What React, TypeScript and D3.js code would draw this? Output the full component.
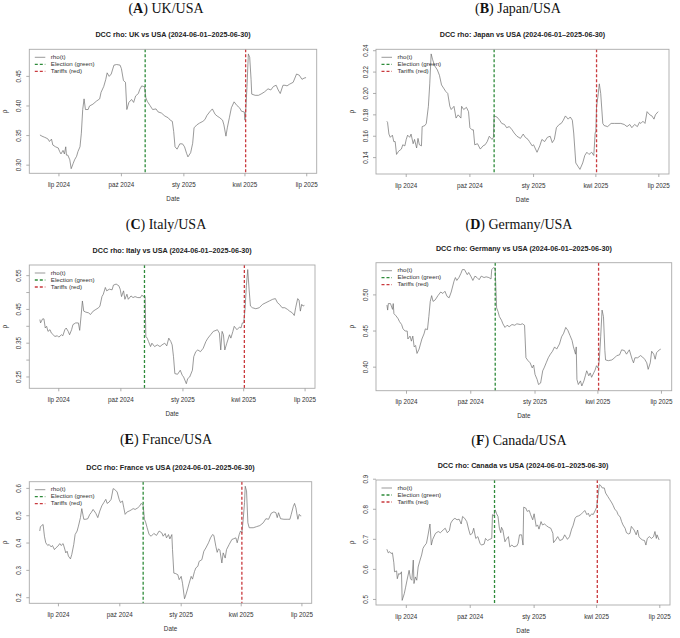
import React from 'react';
import * as d3 from 'd3';

// days counted from 2024-06-01
const START = Date.UTC(2024, 5, 1);
const toDate = (d: number) => new Date(START + d * 864e5);

const monthTicks = ['2024-07-01', '2024-10-01', '2025-01-01', '2025-04-01', '2025-07-01'];
const monthLabels = ['lip 2024', 'paź 2024', 'sty 2025', 'kwi 2025', 'lip 2025'];
const electionDate = '2024-11-05';
const tariffDate = '2025-04-02';
const legendLabels = ['rho(t)', 'Election (green)', 'Tariffs (red)'];

const letters = ['A', 'B', 'C', 'D', 'E', 'F'];
const countries = ['UK', 'Japan', 'Italy', 'Germany', 'France', 'Canada'];

const ukRho: [number, number][] = [
  [2, 0.351], [5, 0.349], [9, 0.347], [11, 0.346], [14, 0.344], [16, 0.34], [19, 0.344], [21, 0.334],
  [25, 0.331], [29, 0.329], [31, 0.323], [33, 0.319], [36, 0.325], [38, 0.319], [40, 0.331], [41, 0.317],
  [43, 0.317], [46, 0.309], [48, 0.294], [51, 0.303], [53, 0.309], [56, 0.315], [58, 0.323], [61, 0.331],
  [63, 0.354], [65, 0.394], [67, 0.412], [69, 0.394], [73, 0.394], [75, 0.4], [80, 0.403], [85, 0.408],
  [90, 0.412], [92, 0.423], [96, 0.433], [99, 0.445], [101, 0.456], [104, 0.45], [107, 0.454], [111, 0.469],
  [115, 0.47], [120, 0.469], [122, 0.463], [125, 0.443], [128, 0.44], [130, 0.394], [133, 0.406], [137, 0.411],
  [140, 0.406], [143, 0.417], [147, 0.421], [149, 0.428], [152, 0.434], [154, 0.433], [156, 0.433], [158, 0.414],
  [160, 0.408], [164, 0.401], [168, 0.394], [173, 0.395], [176, 0.39], [181, 0.388], [186, 0.383], [191, 0.38],
  [194, 0.376], [197, 0.374], [199, 0.357], [201, 0.331], [204, 0.327], [208, 0.336], [212, 0.336], [215, 0.331],
  [218, 0.32], [220, 0.314], [224, 0.321], [227, 0.337], [229, 0.363], [233, 0.368], [237, 0.371], [242, 0.374],
  [245, 0.377], [248, 0.384], [252, 0.39], [256, 0.395], [260, 0.386], [263, 0.383], [267, 0.38], [271, 0.376],
  [273, 0.368], [276, 0.349], [278, 0.363], [281, 0.38], [284, 0.397], [288, 0.407], [292, 0.401], [296, 0.397],
  [299, 0.391], [303, 0.39], [304, 0.376], [305, 0.388], [307, 0.433], [309, 0.488], [311, 0.482], [313, 0.445],
  [314, 0.42], [319, 0.418], [324, 0.418], [329, 0.421], [333, 0.424], [338, 0.429], [342, 0.427], [346, 0.433],
  [350, 0.435], [353, 0.427], [356, 0.421], [360, 0.435], [363, 0.435], [366, 0.434], [370, 0.437], [375, 0.44],
  [380, 0.454], [384, 0.452], [388, 0.445], [391, 0.447], [394, 0.448],
];

const japanRho: [number, number][] = [
  [2, 0.174], [3, 0.173], [5, 0.162], [7, 0.159], [10, 0.161], [12, 0.155], [14, 0.155], [16, 0.143],
  [19, 0.146], [23, 0.148], [25, 0.152], [28, 0.151], [30, 0.157], [32, 0.161], [35, 0.159], [37, 0.162],
  [40, 0.153], [42, 0.157], [45, 0.149], [47, 0.158], [49, 0.152], [52, 0.151], [53, 0.169], [57, 0.17],
  [59, 0.172], [62, 0.188], [64, 0.209], [66, 0.237], [68, 0.232], [71, 0.226], [75, 0.222], [78, 0.217],
  [81, 0.208], [84, 0.205], [87, 0.202], [90, 0.2], [93, 0.188], [95, 0.185], [99, 0.188], [102, 0.177],
  [105, 0.18], [109, 0.177], [110, 0.188], [113, 0.185], [117, 0.187], [120, 0.183], [122, 0.168], [125, 0.166],
  [127, 0.166], [129, 0.152], [133, 0.153], [137, 0.148], [141, 0.151], [144, 0.152], [147, 0.155], [150, 0.16],
  [154, 0.157], [156, 0.159], [157, 0.179], [161, 0.178], [165, 0.175], [168, 0.172], [172, 0.171], [175, 0.168],
  [179, 0.169], [183, 0.166], [186, 0.163], [190, 0.16], [195, 0.158], [199, 0.162], [202, 0.159], [206, 0.157],
  [208, 0.155], [212, 0.151], [214, 0.152], [219, 0.145], [223, 0.151], [226, 0.157], [230, 0.155], [234, 0.159],
  [238, 0.16], [241, 0.154], [244, 0.157], [247, 0.168], [251, 0.171], [254, 0.172], [257, 0.175], [260, 0.179],
  [264, 0.176], [267, 0.178], [270, 0.175], [272, 0.163], [275, 0.135], [278, 0.132], [281, 0.129], [285, 0.135],
  [288, 0.142], [291, 0.145], [294, 0.143], [298, 0.145], [301, 0.142], [303, 0.163], [304, 0.165], [305, 0.188],
  [307, 0.197], [309, 0.209], [311, 0.2], [314, 0.172], [316, 0.17], [321, 0.169], [326, 0.172], [331, 0.172],
  [336, 0.172], [340, 0.172], [345, 0.171], [349, 0.169], [353, 0.171], [356, 0.168], [360, 0.171], [364, 0.169],
  [367, 0.173], [369, 0.172], [372, 0.174], [375, 0.172], [378, 0.183], [382, 0.18], [385, 0.179], [388, 0.176],
  [390, 0.18], [394, 0.183],
];

const italyRho: [number, number][] = [
  [2, 0.42], [3, 0.41], [6, 0.422], [8, 0.422], [10, 0.395], [12, 0.4], [14, 0.385], [17, 0.39],
  [19, 0.38], [22, 0.375], [24, 0.37], [28, 0.372], [30, 0.368], [34, 0.375], [36, 0.372], [39, 0.39],
  [41, 0.395], [44, 0.385], [46, 0.375], [49, 0.39], [51, 0.405], [55, 0.41], [59, 0.41], [61, 0.388],
  [63, 0.43], [65, 0.475], [67, 0.445], [70, 0.442], [74, 0.44], [77, 0.435], [81, 0.445], [85, 0.45],
  [89, 0.455], [91, 0.46], [94, 0.488], [96, 0.495], [99, 0.515], [101, 0.505], [105, 0.51], [109, 0.508],
  [111, 0.522], [115, 0.525], [119, 0.52], [121, 0.51], [123, 0.488], [126, 0.505], [128, 0.48], [131, 0.495],
  [133, 0.48], [137, 0.49], [140, 0.485], [143, 0.488], [147, 0.485], [151, 0.485], [153, 0.492], [156, 0.488],
  [158, 0.488], [159, 0.37], [161, 0.365], [163, 0.355], [166, 0.34], [168, 0.35], [172, 0.34], [176, 0.345],
  [180, 0.34], [183, 0.345], [187, 0.35], [190, 0.342], [193, 0.365], [196, 0.355], [198, 0.345], [200, 0.31],
  [202, 0.26], [206, 0.258], [210, 0.27], [213, 0.255], [215, 0.25], [219, 0.23], [221, 0.245], [224, 0.25],
  [228, 0.27], [230, 0.31], [233, 0.325], [236, 0.33], [240, 0.325], [244, 0.335], [248, 0.355], [251, 0.365],
  [255, 0.375], [259, 0.385], [263, 0.388], [265, 0.39], [268, 0.38], [270, 0.33], [272, 0.385], [274, 0.375],
  [276, 0.33], [279, 0.35], [283, 0.375], [285, 0.365], [288, 0.385], [290, 0.4], [294, 0.39], [298, 0.398],
  [300, 0.395], [302, 0.41], [304, 0.41], [306, 0.45], [308, 0.52], [310, 0.568], [312, 0.51], [314, 0.46],
  [317, 0.455], [322, 0.452], [327, 0.455], [332, 0.465], [337, 0.47], [342, 0.475], [347, 0.48], [351, 0.482],
  [354, 0.47], [357, 0.465], [361, 0.455], [365, 0.455], [369, 0.45], [372, 0.445], [376, 0.44], [379, 0.432],
  [381, 0.455], [384, 0.482], [386, 0.478], [388, 0.445], [390, 0.465], [392, 0.46], [394, 0.462],
];

const germanyRho: [number, number][] = [
  [2, 0.486], [3, 0.479], [4, 0.488], [7, 0.488], [10, 0.48], [11, 0.488], [12, 0.474], [15, 0.471],
  [18, 0.467], [20, 0.463], [23, 0.459], [25, 0.453], [28, 0.45], [31, 0.45], [32, 0.439], [35, 0.443],
  [37, 0.436], [39, 0.443], [41, 0.428], [43, 0.43], [45, 0.419], [48, 0.425], [50, 0.432], [52, 0.439],
  [55, 0.446], [57, 0.453], [60, 0.452], [62, 0.47], [64, 0.491], [66, 0.499], [68, 0.491], [71, 0.493],
  [75, 0.499], [79, 0.504], [82, 0.502], [85, 0.505], [88, 0.498], [91, 0.496], [94, 0.504], [98, 0.519],
  [100, 0.524], [102, 0.52], [105, 0.524], [108, 0.53], [110, 0.535], [113, 0.535], [117, 0.528], [119, 0.531],
  [122, 0.526], [125, 0.52], [128, 0.526], [131, 0.524], [134, 0.521], [137, 0.526], [141, 0.524], [144, 0.525],
  [148, 0.524], [151, 0.522], [152, 0.535], [155, 0.538], [157, 0.535], [159, 0.482], [161, 0.477], [163, 0.47],
  [166, 0.465], [168, 0.46], [171, 0.455], [174, 0.458], [177, 0.456], [181, 0.459], [185, 0.458], [188, 0.46],
  [193, 0.459], [196, 0.46], [199, 0.458], [201, 0.413], [204, 0.409], [207, 0.406], [210, 0.399], [212, 0.403],
  [214, 0.39], [217, 0.383], [219, 0.376], [222, 0.378], [225, 0.395], [227, 0.399], [230, 0.406], [233, 0.413],
  [236, 0.418], [239, 0.422], [242, 0.428], [245, 0.425], [249, 0.432], [252, 0.442], [255, 0.447], [258, 0.455],
  [261, 0.451], [264, 0.444], [267, 0.437], [269, 0.428], [272, 0.418], [273, 0.428], [274, 0.383], [276, 0.376],
  [279, 0.381], [281, 0.374], [284, 0.381], [286, 0.388], [288, 0.395], [291, 0.388], [293, 0.392], [295, 0.386],
  [298, 0.392], [300, 0.396], [302, 0.402], [304, 0.399], [306, 0.409], [308, 0.442], [310, 0.479], [312, 0.47],
  [314, 0.423], [315, 0.41], [319, 0.409], [324, 0.41], [328, 0.413], [331, 0.416], [335, 0.417], [338, 0.424],
  [342, 0.423], [345, 0.418], [349, 0.424], [353, 0.411], [355, 0.406], [357, 0.413], [361, 0.413], [365, 0.416],
  [368, 0.414], [371, 0.411], [374, 0.406], [376, 0.397], [379, 0.406], [381, 0.422], [384, 0.418], [386, 0.411],
  [388, 0.42], [392, 0.424], [394, 0.425],
];

const franceRho: [number, number][] = [
  [2, 0.444], [3, 0.46], [5, 0.464], [7, 0.468], [9, 0.425], [11, 0.401], [14, 0.391], [16, 0.395],
  [19, 0.386], [21, 0.391], [24, 0.376], [26, 0.382], [29, 0.388], [32, 0.398], [34, 0.391], [37, 0.398],
  [39, 0.382], [41, 0.364], [43, 0.37], [45, 0.352], [48, 0.342], [50, 0.358], [53, 0.395], [55, 0.431],
  [58, 0.444], [60, 0.462], [63, 0.493], [65, 0.526], [68, 0.487], [71, 0.487], [74, 0.489], [77, 0.505],
  [79, 0.511], [82, 0.523], [86, 0.509], [89, 0.493], [92, 0.517], [95, 0.536], [98, 0.548], [101, 0.56],
  [103, 0.545], [106, 0.55], [109, 0.56], [112, 0.599], [114, 0.597], [118, 0.587], [121, 0.56], [123, 0.548],
  [126, 0.554], [128, 0.529], [130, 0.505], [133, 0.514], [136, 0.517], [139, 0.521], [142, 0.526], [145, 0.523],
  [149, 0.529], [152, 0.536], [154, 0.545], [157, 0.538], [159, 0.487], [161, 0.474], [163, 0.456], [166, 0.431],
  [169, 0.425], [173, 0.435], [177, 0.428], [181, 0.444], [185, 0.437], [187, 0.425], [190, 0.435], [192, 0.419],
  [195, 0.431], [197, 0.415], [200, 0.431], [201, 0.376], [203, 0.29], [206, 0.288], [209, 0.284], [211, 0.266],
  [214, 0.278], [216, 0.253], [219, 0.196], [221, 0.21], [224, 0.235], [226, 0.253], [229, 0.278], [231, 0.268],
  [234, 0.296], [236, 0.309], [239, 0.315], [241, 0.333], [245, 0.339], [248, 0.37], [251, 0.382], [255, 0.401],
  [258, 0.419], [261, 0.431], [263, 0.428], [266, 0.388], [268, 0.366], [270, 0.379], [272, 0.374], [275, 0.327],
  [277, 0.364], [280, 0.345], [282, 0.376], [286, 0.395], [290, 0.413], [292, 0.415], [296, 0.419], [298, 0.401],
  [301, 0.431], [303, 0.444], [305, 0.437], [307, 0.487], [309, 0.548], [310, 0.608], [312, 0.591], [314, 0.474],
  [316, 0.456], [322, 0.456], [327, 0.46], [332, 0.464], [337, 0.474], [341, 0.489], [345, 0.487], [349, 0.509],
  [353, 0.514], [356, 0.511], [358, 0.493], [360, 0.511], [363, 0.489], [368, 0.487], [373, 0.487], [377, 0.487],
  [379, 0.505], [382, 0.533], [384, 0.545], [386, 0.529], [388, 0.499], [389, 0.487], [391, 0.505], [393, 0.499],
  [394, 0.499],
];

const canadaRho: [number, number][] = [
  [2, 0.667], [4, 0.655], [6, 0.659], [8, 0.653], [10, 0.655], [12, 0.622], [13, 0.592], [16, 0.595],
  [17, 0.569], [19, 0.586], [21, 0.584], [23, 0.592], [24, 0.497], [27, 0.519], [29, 0.541], [31, 0.564],
  [34, 0.597], [36, 0.569], [38, 0.564], [40, 0.631], [41, 0.553], [43, 0.575], [45, 0.564], [47, 0.608],
  [49, 0.625], [52, 0.648], [54, 0.67], [56, 0.678], [59, 0.687], [61, 0.711], [64, 0.751], [66, 0.681],
  [68, 0.7], [72, 0.72], [76, 0.726], [79, 0.722], [83, 0.731], [86, 0.737], [89, 0.722], [92, 0.729],
  [94, 0.754], [97, 0.765], [100, 0.77], [103, 0.765], [106, 0.767], [109, 0.751], [111, 0.776], [114, 0.77],
  [117, 0.759], [120, 0.731], [122, 0.715], [125, 0.72], [127, 0.737], [130, 0.703], [133, 0.709], [136, 0.687],
  [138, 0.681], [142, 0.684], [144, 0.703], [147, 0.696], [150, 0.7], [153, 0.703], [154, 0.782], [156, 0.778],
  [158, 0.798], [160, 0.785], [162, 0.776], [164, 0.737], [166, 0.722], [167, 0.74], [169, 0.731], [172, 0.692],
  [174, 0.7], [177, 0.709], [179, 0.675], [182, 0.681], [185, 0.675], [189, 0.678], [191, 0.687], [193, 0.715],
  [196, 0.715], [198, 0.681], [199, 0.807], [202, 0.804], [204, 0.793], [207, 0.796], [209, 0.782], [212, 0.765],
  [214, 0.785], [217, 0.743], [219, 0.748], [221, 0.734], [224, 0.759], [226, 0.748], [229, 0.751], [232, 0.745],
  [235, 0.74], [238, 0.737], [241, 0.72], [242, 0.689], [245, 0.698], [248, 0.709], [251, 0.696], [255, 0.7],
  [258, 0.715], [262, 0.7], [265, 0.709], [268, 0.734], [270, 0.745], [273, 0.77], [275, 0.776], [278, 0.778],
  [281, 0.782], [284, 0.789], [287, 0.796], [290, 0.782], [292, 0.787], [294, 0.776], [297, 0.785], [299, 0.782],
  [302, 0.796], [304, 0.807], [306, 0.843], [308, 0.882], [310, 0.879], [312, 0.871], [315, 0.871], [317, 0.854],
  [320, 0.843], [323, 0.832], [326, 0.821], [328, 0.812], [330, 0.801], [333, 0.793], [335, 0.782], [338, 0.774],
  [340, 0.759], [342, 0.748], [345, 0.737], [347, 0.722], [350, 0.718], [352, 0.72], [354, 0.743], [356, 0.737],
  [358, 0.731], [361, 0.715], [363, 0.731], [365, 0.709], [367, 0.703], [370, 0.698], [373, 0.696], [375, 0.681],
  [377, 0.703], [380, 0.709], [383, 0.703], [386, 0.709], [388, 0.726], [390, 0.703], [391, 0.715], [394, 0.698],
];

const ukTicks = [0.3, 0.35, 0.4, 0.45];
const japanTicks = [0.14, 0.16, 0.18, 0.2, 0.22, 0.24];
const italyTicks = [0.25, 0.3, 0.35, 0.4, 0.45, 0.5, 0.55];
const germanyTicks = [0.4, 0.45, 0.5];
const franceTicks = [0.2, 0.3, 0.4, 0.5, 0.6];
const canadaTicks = [0.5, 0.6, 0.7, 0.8, 0.9];

const series = [ukRho, japanRho, italyRho, germanyRho, franceRho, canadaRho];
const yTicks = [ukTicks, japanTicks, italyTicks, germanyTicks, franceTicks, canadaTicks];
// R drops labels that would crowd: only every other one for Italy
const labelEvery = [1, 1, 2, 1, 1, 1];
const tickDigits = [2, 2, 2, 2, 1, 1];

// plot boxes in page pixels, one per panel
const boxes = [
  { x0: 29.3, y0: 49.3, x1: 316.7, y1: 173.3, tx: 166, ty: 13.3 },
  { x0: 376, y0: 49.3, x1: 669, y1: 174, tx: 518, ty: 13.3 },
  { x0: 29.3, y0: 265, x1: 315, y1: 388.3, tx: 166, ty: 229 },
  { x0: 376, y0: 262.7, x1: 671.7, y1: 390.7, tx: 519, ty: 229 },
  { x0: 29.3, y0: 481.7, x1: 311.7, y1: 603.3, tx: 166, ty: 444 },
  { x0: 376, y0: 480, x1: 670, y1: 605, tx: 519, ty: 445 },
];

const SANS = 'Liberation Sans, Arial, Helvetica, sans-serif';
const SERIF = 'Liberation Serif, Times New Roman, serif';
const GREEN = '#2e8b3a';
const RED = '#c93a3e';
const LINE = '#6e6e6e';

const utc = (s: string) => new Date(s + 'T00:00:00Z');

const Panel: React.FC<{ i: number }> = ({ i }) => {
  const b = boxes[i];
  const data = series[i];

  const [d0, d1] = d3.extent(data, d => d[0]) as [number, number];
  const padX = (d1 - d0) * 0.04;
  const x = d3.scaleUtc()
    .domain([toDate(d0 - padX), toDate(d1 + padX)])
    .range([b.x0, b.x1]);

  const [v0, v1] = d3.extent(data, d => d[1]) as [number, number];
  const padY = (v1 - v0) * 0.04;
  const y = d3.scaleLinear()
    .domain([v0 - padY, v1 + padY])
    .range([b.y1, b.y0]);

  const line = d3.line<[number, number]>()
    .x(d => x(toDate(d[0])))
    .y(d => y(d[1]));

  const xe = x(utc(electionDate));
  const xt = x(utc(tariffDate));
  const yMid = (b.y0 + b.y1) / 2;
  const fmt = d3.format(`.${tickDigits[i]}f`);

  return (
    <g>
      {/* panel heading */}
      <text x={b.tx} y={b.ty} textAnchor="middle" fontFamily={SERIF} fontSize={14} fill="#111">
        (<tspan fontWeight="bold">{letters[i]}</tspan>) {countries[i]}/USA
      </text>
      <text x={(b.x0 + b.x1) / 2} y={b.y0 - 12} textAnchor="middle" fontFamily={SANS}
        fontSize={7.2} fontWeight="bold" fill="#222">
        {`DCC rho: ${countries[i]} vs USA (2024-06-01–2025-06-30)`}
      </text>

      <path d={line(data) ?? ''} fill="none" stroke={LINE} strokeWidth={0.7} strokeLinejoin="round" />

      <line x1={xe} x2={xe} y1={b.y0} y2={b.y1} stroke={GREEN} strokeWidth={1.3} strokeDasharray="3,2" />
      <line x1={xt} x2={xt} y1={b.y0} y2={b.y1} stroke={RED} strokeWidth={1.3} strokeDasharray="3,2" />

      <rect x={b.x0} y={b.y0} width={b.x1 - b.x0} height={b.y1 - b.y0} fill="none" stroke="#aaa" strokeWidth={0.9} />

      {/* x axis */}
      {monthTicks.map((t, k) => {
        const px = x(utc(t));
        return (
          <g key={t}>
            <line x1={px} x2={px} y1={b.y1} y2={b.y1 + 3} stroke="#999" strokeWidth={0.8} />
            <text x={px} y={b.y1 + 13.5} textAnchor="middle" fontFamily={SANS} fontSize={6.3} fill="#333">
              {monthLabels[k]}
            </text>
          </g>
        );
      })}
      <text x={(b.x0 + b.x1) / 2} y={b.y1 + 27.5} textAnchor="middle" fontFamily={SANS} fontSize={6.3} fill="#333">
        Date
      </text>

      {/* y axis */}
      {yTicks[i].map((t, k) => {
        const py = y(t);
        return (
          <g key={t}>
            <line x1={b.x0 - 3} x2={b.x0} y1={py} y2={py} stroke="#999" strokeWidth={0.8} />
            {k % labelEvery[i] === 0 && (
              <text transform={`translate(${b.x0 - 8},${py}) rotate(-90)`} textAnchor="middle"
                fontFamily={SANS} fontSize={6.3} fill="#333">
                {fmt(t)}
              </text>
            )}
          </g>
        );
      })}
      <text transform={`translate(${b.x0 - 22.5},${yMid}) rotate(-90)`} textAnchor="middle"
        fontFamily={SANS} fontSize={6.5} fill="#333">
        ρ
      </text>

      {/* legend */}
      {legendLabels.map((lab, k) => {
        const ly = b.y0 + 8 + k * 7;
        const col = k === 0 ? LINE : k === 1 ? GREEN : RED;
        return (
          <g key={lab}>
            <line x1={b.x0 + 5.5} x2={b.x0 + 16} y1={ly} y2={ly} stroke={col}
              strokeWidth={k === 0 ? 0.7 : 1.3} strokeDasharray={k === 0 ? undefined : '3,2'} />
            <text x={b.x0 + 21.5} y={ly} dominantBaseline="middle" fontFamily={SANS} fontSize={6.2} fill="#333">
              {lab}
            </text>
          </g>
        );
      })}
    </g>
  );
};

const App: React.FC = () => {
  return (
    <svg width={680} height={638} viewBox="0 0 680 638"
      style={{ position: 'absolute', left: 0, top: 0, background: '#fff' }}>
      <rect width={680} height={638} fill="#fff" />
      {series.map((_, i) => <Panel key={i} i={i} />)}
    </svg>
  );
};

export default App;
